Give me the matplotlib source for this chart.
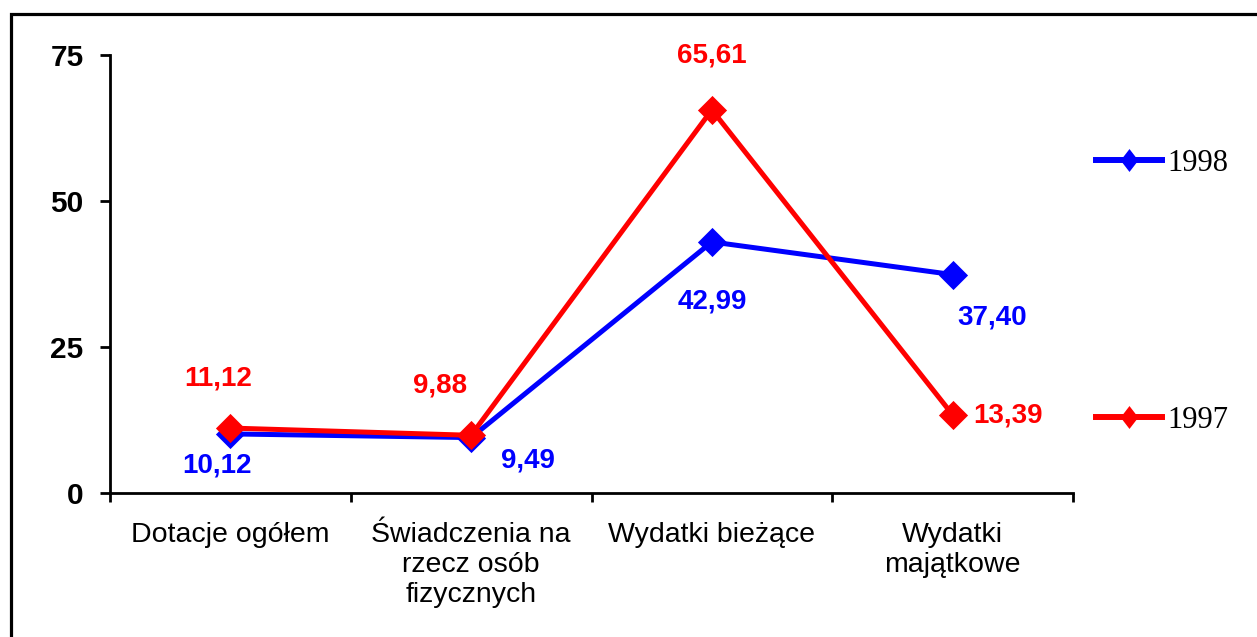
import matplotlib

matplotlib.use("Agg")
import matplotlib.pyplot as plt
from matplotlib.lines import Line2D

plt.rcParams["font.family"] = ["Liberation Sans", "DejaVu Sans"]

categories = [
    "Dotacje ogółem",
    "Świadczenia na\nrzecz osób\nfizycznych",
    "Wydatki bieżące",
    "Wydatki\nmajątkowe",
]
values_1998 = [10.12, 9.49, 42.99, 37.40]
values_1997 = [11.12, 9.88, 65.61, 13.39]
labels_1998 = ["10,12", "9,49", "42,99", "37,40"]
labels_1997 = ["11,12", "9,88", "65,61", "13,39"]
y_ticks = [0, 25, 50, 75]

# label offsets in pixels relative to each point
offsets_1998 = [(-13, -32), (57, -23), (0, -60), (40, -43)]
offsets_1997 = [(-12, 50), (-31, 50), (0, 54), (55, -1)]

BLUE = "#0000ff"
RED = "#ff0000"
W, H = 1257, 637

diamond = [(0, 1), (1, 0), (0, -1), (-1, 0), (0, 1)]
tall_diamond = [(0, 1), (0.77, 0), (0, -1), (-0.77, 0), (0, 1)]

fig = plt.figure(figsize=(W / 100, H / 100), dpi=100)
ax = fig.add_axes([110 / W, 1 - 493 / H, (1073 - 110) / W, (493 - 55) / H])

x = list(range(len(categories)))
ax.plot(x, values_1998, color=BLUE, lw=3.6, marker=diamond, ms=21, mew=0,
        solid_joinstyle="miter", zorder=3)
ax.plot(x, values_1997, color=RED, lw=3.6, marker=diamond, ms=21, mew=0,
        solid_joinstyle="miter", zorder=4)

for xi, v, lab, off in zip(x, values_1998, labels_1998, offsets_1998):
    ax.annotate(lab, (xi, v), xytext=off, textcoords="offset pixels",
                ha="center", va="center", color=BLUE, fontsize=20,
                fontweight="bold", zorder=5)
for xi, v, lab, off in zip(x, values_1997, labels_1997, offsets_1997):
    ax.annotate(lab, (xi, v), xytext=off, textcoords="offset pixels",
                ha="center", va="center", color=RED, fontsize=20,
                fontweight="bold", zorder=5)

ax.set_xlim(-0.5, len(categories) - 0.5)
ax.set_ylim(0, 75)
ax.set_yticks(y_ticks)
ax.set_yticklabels([str(t) for t in y_ticks], fontsize=21.5, fontweight="bold")
ax.set_xticks(x)
ax.set_xticklabels(categories, fontsize=20.5, linespacing=1.2)
ax.set_xticks([i - 0.5 for i in range(len(categories) + 1)], minor=True)
ax.tick_params(axis="x", which="major", length=0, pad=21)
ax.tick_params(axis="x", which="minor", length=6.5, width=2, direction="out")
ax.tick_params(axis="y", length=7, width=2, direction="out", pad=12)

for side in ("top", "right"):
    ax.spines[side].set_visible(False)
for side in ("left", "bottom"):
    ax.spines[side].set_linewidth(2)
    ax.spines[side].set_capstyle("projecting")

handles = [
    Line2D([], [], color=BLUE, lw=4.3, marker=tall_diamond, ms=16.5, mew=0),
    Line2D([], [], color=RED, lw=4.3, marker=tall_diamond, ms=16.5, mew=0),
]
fig.legend(handles, ["1998", "1997"], loc="upper left",
           bbox_to_anchor=(1096 / W, 1 - 149 / H), bbox_transform=fig.transFigure,
           frameon=False, borderpad=0, borderaxespad=0, numpoints=1,
           handlelength=2.15, handletextpad=0.2, labelspacing=7.45,
           prop={"family": "Liberation Serif", "size": 22})

# outer frame (runs off the right and bottom edge)
fig.add_artist(Line2D([11 / W, 11 / W, 1.0], [0.0, 1 - 14 / H, 1 - 14 / H],
                      transform=fig.transFigure, color="black", lw=2.3,
                      solid_joinstyle="miter"))

fig.savefig("out.png", dpi=100)
plt.close(fig)
